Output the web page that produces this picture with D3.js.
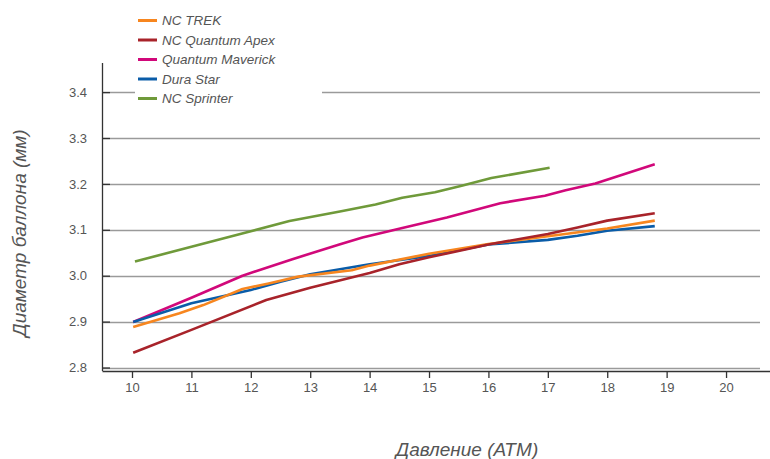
<!DOCTYPE html>
<html>
<head>
<meta charset="utf-8">
<script src="https://cdn.jsdelivr.net/npm/d3@7"></script>
<style>
  body { margin: 0; background: #fff; }
  svg { display: block; font-family: "Liberation Sans", Arial, sans-serif; }
</style>
</head>
<body>
<div class="chart"></div>
<script>
// Data: [pressure, diameter]
const seriesNames = ["NC TREK", "NC Quantum Apex", "Quantum Maverick", "Dura Star", "NC Sprinter"];
const seriesColors = ["#f7861f", "#a8232a", "#d1087a", "#0a5ca8", "#6f9a3a"];

const trek = [[10.02, 2.888], [10.8, 2.918], [11.2, 2.936], [11.86, 2.971], [12.3, 2.983], [12.8, 2.998],
    [13.7, 3.012], [14, 3.022], [15, 3.048], [16, 3.069], [17, 3.086], [18, 3.103], [18.8, 3.12]];
const quantumApex = [[10.02, 2.832], [11, 2.882], [12.26, 2.947], [13, 2.974], [14, 3.006], [14.5, 3.025],
    [15, 3.04], [16, 3.068], [17, 3.091], [17.5, 3.105], [18, 3.12], [18.8, 3.136]];
const quantumMaverick = [[10.02, 2.899], [11, 2.952], [11.86, 3.0], [12.7, 3.036], [13.49, 3.068], [13.88, 3.083],
    [14.55, 3.104], [15.3, 3.127], [16.2, 3.158], [16.95, 3.174], [17.3, 3.186], [17.8, 3.201], [18.8, 3.243]];
const duraStar = [[10.02, 2.899], [11, 2.94], [12, 2.969], [12.5, 2.987], [13, 3.003], [14, 3.025],
    [15, 3.043], [16, 3.068], [17, 3.078], [17.5, 3.087], [18, 3.098], [18.8, 3.108]];
const sprinter = [[10.05, 3.031], [11, 3.063], [12, 3.097], [12.65, 3.119], [13.5, 3.14], [14.1, 3.155],
    [14.55, 3.17], [15.1, 3.182], [15.55, 3.196], [16.05, 3.213], [17.03, 3.235]];

const xTicks = [10, 11, 12, 13, 14, 15, 16, 17, 18, 19, 20];
const yTicks = [2.8, 2.9, 3.0, 3.1, 3.2, 3.3, 3.4];

const allSeries = [trek, quantumApex, quantumMaverick, duraStar, sprinter];
// draw order (bottom to top)
const drawOrder = [4, 2, 3, 0, 1];

const svgWidth = 770;
const svgHeight = 459;

// plot area in pixels
const plot = { left: 102, right: 770, top: 63, bottom: 371 };

const svg = d3.select(".chart")
    .append("svg")
    .attr("width", svgWidth)
    .attr("height", svgHeight);

// Scales
const xScale = d3.scaleLinear()
    .domain([9.495, 20.74])
    .range([plot.left, plot.right]);

const yScale = d3.scaleLinear()
    .domain([2.7924, 3.4634])
    .range([plot.bottom, plot.top]);

// Gridlines
svg.append("g")
    .selectAll("line")
    .data(yTicks)
    .enter()
    .append("line")
    .attr("x1", plot.left)
    .attr("x2", 760)
    .attr("y1", d => Math.round(yScale(d)) + 0.5)
    .attr("y2", d => Math.round(yScale(d)) + 0.5)
    .attr("stroke", "#9a9a9a")
    .attr("stroke-width", 1.3);

// Y axis (ticks inward)
const yAxis = d3.axisRight(yScale)
    .tickValues(yTicks)
    .tickSize(8)
    .tickFormat(d3.format(".1f"));

const yG = svg.append("g")
    .attr("transform", `translate(${plot.left}, 0)`)
    .call(yAxis);
yG.select(".domain").remove();
yG.selectAll(".tick line").attr("stroke", "#333").attr("stroke-width", 1.3);
yG.selectAll(".tick text")
    .attr("x", -15)
    .attr("text-anchor", "end")
    .attr("fill", "#555")
    .attr("font-size", "13px");
svg.append("line")
    .attr("x1", plot.left + 0.5).attr("x2", plot.left + 0.5)
    .attr("y1", plot.top).attr("y2", plot.bottom)
    .attr("stroke", "#333").attr("stroke-width", 1.3);

// X axis
const xAxis = d3.axisBottom(xScale)
    .tickValues(xTicks)
    .tickSize(7)
    .tickSizeOuter(0)
    .tickFormat(d3.format("d"));

const xG = svg.append("g")
    .attr("transform", `translate(0, ${plot.bottom})`)
    .call(xAxis);
xG.select(".domain").attr("stroke", "#333").attr("stroke-width", 1.3);
xG.selectAll(".tick line").attr("stroke", "#333").attr("stroke-width", 1.3);
xG.selectAll(".tick text")
    .attr("y", 12)
    .attr("fill", "#555")
    .attr("font-size", "13px");

// Legend background hides the top gridline
svg.append("rect")
    .attr("x", 135).attr("y", 8)
    .attr("width", 187).attr("height", 100)
    .attr("fill", "#fff");

// Lines
const line = d3.line()
    .x(d => xScale(d[0]))
    .y(d => yScale(d[1]));

svg.append("g")
    .selectAll("path")
    .data(drawOrder)
    .enter()
    .append("path")
    .attr("d", i => line(allSeries[i]))
    .attr("fill", "none")
    .attr("stroke", i => seriesColors[i])
    .attr("stroke-width", 2.6)
    .attr("stroke-linejoin", "round");

// Legend
const legend = svg.append("g")
    .selectAll("g")
    .data(seriesNames)
    .enter()
    .append("g")
    .attr("transform", (d, i) => `translate(138, ${20.5 + i * 19.5})`);

legend.append("line")
    .attr("x1", 0).attr("x2", 19)
    .attr("stroke", (d, i) => seriesColors[i])
    .attr("stroke-width", 3);

legend.append("text")
    .attr("x", 24)
    .attr("dy", "0.35em")
    .attr("font-size", "13.5px")
    .attr("font-style", "italic")
    .attr("fill", "#555")
    .text(d => d);

// Axis titles
svg.append("text")
    .attr("transform", "translate(26, 233) rotate(-90)")
    .attr("text-anchor", "middle")
    .attr("font-size", "19px")
    .attr("font-style", "italic")
    .attr("fill", "#555")
    .text("Диаметр баллона (мм)");

svg.append("text")
    .attr("x", 467)
    .attr("y", 456)
    .attr("text-anchor", "middle")
    .attr("font-size", "19px")
    .attr("font-style", "italic")
    .attr("fill", "#555")
    .text("Давление (АТМ)");
</script>
</body>
</html>
